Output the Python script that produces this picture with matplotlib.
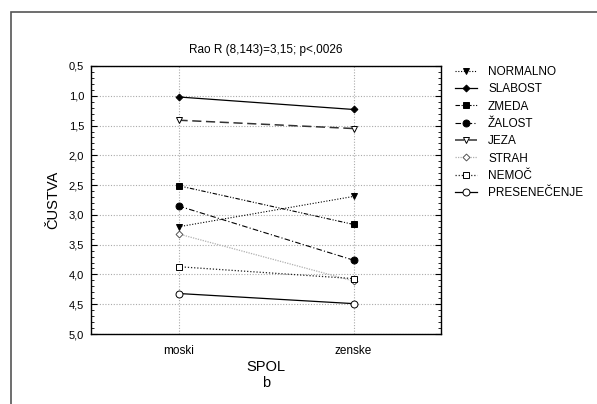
import matplotlib
matplotlib.use("Agg")
import matplotlib.pyplot as plt
from matplotlib.ticker import MultipleLocator, FuncFormatter
from matplotlib.patches import Rectangle

plt.rcParams['font.family'] = ['Liberation Sans', 'DejaVu Sans']

categories = ["moski", "zenske"]
series_names = ["NORMALNO", "SLABOST", "ZMEDA", "ŽALOST", "JEZA", "STRAH", "NEMOČ", "PRESENEČENJE"]
normalno = [3.20, 2.69]
slabost = [1.02, 1.23]
zmeda = [2.51, 3.16]
zalost = [2.85, 3.76]
jeza = [1.41, 1.55]
strah = [3.32, 4.11]
nemoc = [3.87, 4.07]
presenecenje = [4.32, 4.49]
yticks = [0.5, 1.0, 1.5, 2.0, 2.5, 3.0, 3.5, 4.0, 4.5, 5.0]

values = [normalno, slabost, zmeda, zalost, jeza, strah, nemoc, presenecenje]
styles = [
    dict(color='black', linestyle=(0, (1, 1.5)), linewidth=0.8, marker='v', markersize=5, mfc='black', mec='black'),
    dict(color='black', linestyle='-', linewidth=0.9, marker='D', markersize=3.5, mfc='black', mec='black'),
    dict(color='black', linestyle=(0, (4, 1.5, 1, 1.5, 1, 1.5)), linewidth=0.8, marker='s', markersize=5, mfc='black', mec='black'),
    dict(color='black', linestyle=(0, (5, 2, 1, 2)), linewidth=0.8, marker='o', markersize=5, mfc='black', mec='black'),
    dict(color='#333333', linestyle=(0, (6, 3)), linewidth=1.1, marker='v', markersize=5, mfc='white', mec='black'),
    dict(color='#b0b0b0', linestyle=(0, (1, 1)), linewidth=0.9, marker='D', markersize=3.5, mfc='white', mec='#555555'),
    dict(color='#222222', linestyle=(0, (1, 1.5)), linewidth=0.9, marker='s', markersize=5, mfc='white', mec='black'),
    dict(color='black', linestyle='-', linewidth=0.9, marker='o', markersize=5, mfc='white', mec='black'),
]

fig = plt.figure(figsize=(5.97, 4.04), dpi=100)
fig.patches.append(Rectangle((10.5/597, -0.1), 1.2, 1 - 12/404 + 0.1, transform=fig.transFigure,
                             fill=False, edgecolor='#555555', linewidth=1.2))
ax = fig.add_axes([91/597, 1 - 334/404, 350/597, 268/404])

x = list(range(len(categories)))
lines = []
for name, v, st in zip(series_names, values, styles):
    l, = ax.plot(x, v, label=name, mew=0.7, zorder=3, **st)
    lines.append(l)

ax.set_xlim(-0.5, 1.5)
ax.set_ylim(5.0, 0.5)
ax.set_yticks(yticks)
ax.yaxis.set_major_formatter(FuncFormatter(lambda v, p: f"{v:.1f}".replace('.', ',')))
ax.yaxis.set_minor_locator(MultipleLocator(0.1))
ax.set_xticks(x)
ax.set_xticklabels(categories)
ax.tick_params(axis='x', length=0, labelsize=8.5, pad=8)
ax.tick_params(axis='y', which='major', direction='in', length=4, right=True, labelsize=8, width=0.8, pad=5)
ax.tick_params(axis='y', which='minor', direction='in', length=2, right=True, width=0.6)
ax.grid(True, which='major', color='#aaaaaa', linestyle=(0, (1, 1.5)), linewidth=0.8)
ax.set_axisbelow(True)
for s in ax.spines.values():
    s.set_linewidth(1.0)

ax.set_title("Rao R (8,143)=3,15; p<,0026", fontsize=8.5, pad=9)
ax.set_ylabel("ČUSTVA", fontsize=10.5, labelpad=6)
ax.set_xlabel("SPOL\nb", fontsize=10.5, labelpad=2, linespacing=1.15)

leg = fig.legend(handles=lines, loc='upper left', bbox_to_anchor=(455/597, 1 - 66/404),
                 frameon=False, fontsize=8.5, handlelength=1.9, handletextpad=0.9,
                 labelspacing=0.45, borderaxespad=0, borderpad=0)

fig.savefig("out.png", dpi=100)
